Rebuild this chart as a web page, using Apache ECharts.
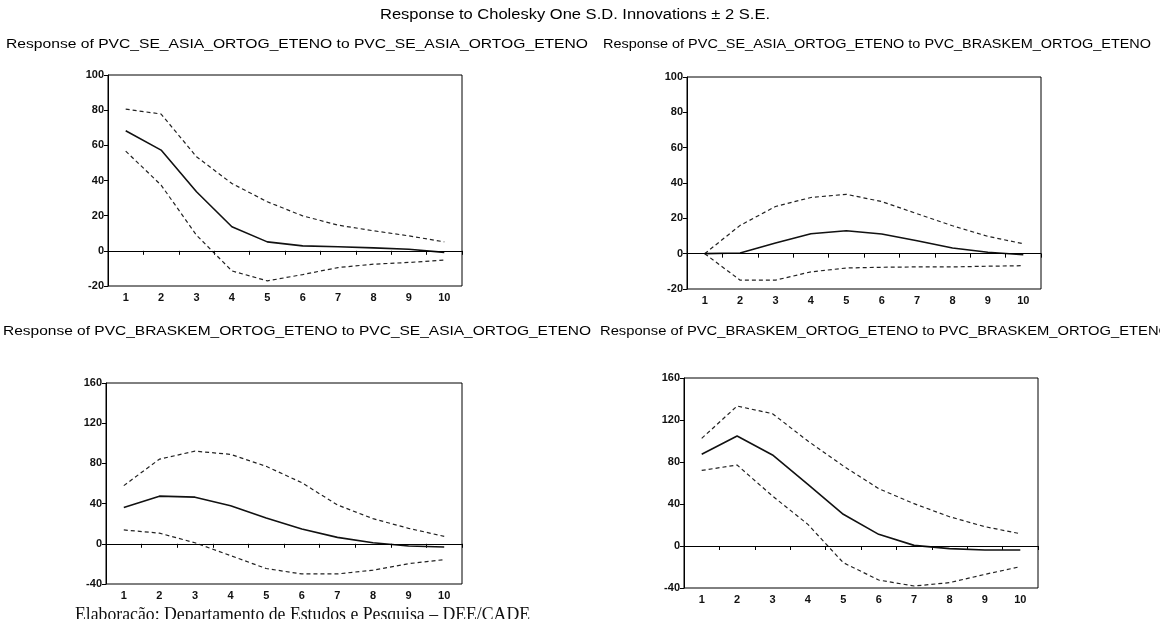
<!DOCTYPE html>
<html><head><meta charset="utf-8">
<script src="https://cdn.jsdelivr.net/npm/echarts@6/dist/echarts.min.js"></script>
<style>html,body{margin:0;padding:0;background:#fff;overflow:hidden}#c{width:1160px;height:619px}</style>
</head><body><div id="c"></div>
<script>
const periods = ['1','2','3','4','5','6','7','8','9','10'];
// Panel 1: PVC_SE_ASIA to PVC_SE_ASIA
const p1Resp = [68.3, 57.3, 33.6, 13.7, 5.1, 2.8, 2.3, 1.7, 0.9, -0.9];
const p1Up   = [80.6, 77.8, 53.5, 38.3, 27.9, 19.9, 14.6, 11.4, 8.5, 5.1];
const p1Lo   = [56.7, 37.4, 8.9, -11.4, -17.1, -13.5, -9.5, -7.6, -6.6, -5.3];
// Panel 2: PVC_SE_ASIA to PVC_BRASKEM
const p2Resp = [0, 0.4, 6, 11.3, 13, 11.1, 7.3, 3.2, 0.8, -0.6];
const p2Up   = [0, 16, 26.7, 31.8, 33.6, 29.5, 22.6, 15.8, 9.8, 5.6];
const p2Lo   = [0, -15, -15, -10.3, -8.1, -7.7, -7.5, -7.5, -7.1, -6.8];
// Panel 3: PVC_BRASKEM to PVC_SE_ASIA
const p3Resp = [36.2, 47.4, 46.4, 37.8, 25.6, 14.7, 6.4, 1, -2.2, -3.2];
const p3Up   = [57.9, 84.2, 92.2, 89, 77.1, 60.8, 38.7, 25, 15.4, 7.4];
const p3Lo   = [13.8, 10.6, 1, -11.8, -24.6, -30, -30, -26.2, -19.8, -15.7];
// Panel 4: PVC_BRASKEM to PVC_BRASKEM
const p4Resp = [87.3, 104.8, 86.7, 58.7, 30.2, 11.1, 0.6, -2.5, -3.8, -3.8];
const p4Up   = [102.5, 133.3, 126, 100, 76.2, 54.6, 40.3, 27.9, 18.4, 11.7];
const p4Lo   = [72, 77.1, 47.6, 20.6, -15.9, -32.4, -38.1, -34.9, -27, -19.7];

const mainTitle = 'Response to Cholesky One S.D. Innovations \u00B1 2 S.E.';
const panelTitles = [
  'Response of PVC_SE_ASIA_ORTOG_ETENO to PVC_SE_ASIA_ORTOG_ETENO',
  'Response of PVC_SE_ASIA_ORTOG_ETENO to PVC_BRASKEM_ORTOG_ETENO',
  'Response of PVC_BRASKEM_ORTOG_ETENO to PVC_SE_ASIA_ORTOG_ETENO',
  'Response of PVC_BRASKEM_ORTOG_ETENO to PVC_BRASKEM_ORTOG_ETENO'
];
const footer = 'Elabora\u00E7\u00E3o: Departamento de Estudos e Pesquisa \u2013 DEE/CADE';
const yRanges = [[-20,100,20],[-20,100,20],[-40,160,40],[-40,160,40]];

const grids = [
  {left:108, top:75, width:354, height:211},
  {left:687, top:77, width:354, height:212},
  {left:106, top:383, width:356, height:201},
  {left:684, top:378, width:354, height:210}
];
const panels = [[p1Resp,p1Up,p1Lo],[p2Resp,p2Up,p2Lo],[p3Resp,p3Up,p3Lo],[p4Resp,p4Up,p4Lo]];

const font = 'Arial, "Liberation Sans", sans-serif';
const serif = '"Liberation Serif", "Times New Roman", serif';
const mctx = document.createElement('canvas').getContext('2d');
function measure(text, f){ mctx.font = f; return mctx.measureText(text).width; }

const option = {
  animation:false,
  backgroundColor:'#fff',
  grid: grids.map(g => Object.assign({show:true, borderColor:'#000', borderWidth:1, backgroundColor:'transparent'}, g)),
  xAxis: grids.map((g,i)=>({
    type:'category', gridIndex:i, data:periods, boundaryGap:true,
    axisLine:{show:true, lineStyle:{color:'#000', width:1}},
    axisTick:{show:true, length:4, lineStyle:{color:'#000'}},
    axisLabel:{fontSize:11, fontWeight:'bold', color:'#111', margin:6, fontFamily:font},
    splitLine:{show:false}
  })),
  yAxis: grids.map((g,i)=>({
    type:'value', gridIndex:i, min:yRanges[i][0], max:yRanges[i][1], interval:yRanges[i][2],
    axisLine:{show:true, lineStyle:{color:'#000', width:1}},
    axisTick:{show:true, length:4, lineStyle:{color:'#000'}},
    axisLabel:{fontSize:11, fontWeight:'bold', color:'#111', margin:4, fontFamily:font},
    splitLine:{show:false}
  })),
  series: [],
  graphic: []
};
panels.forEach((p,i)=>{
  option.series.push({
    type:'line', xAxisIndex:i, yAxisIndex:i, data:p[0], symbol:'none',
    lineStyle:{color:'#111', width:1.6, type:'solid'},
    markLine:{silent:true, symbol:'none', label:{show:false},
      lineStyle:{color:'#000', width:1, type:'solid'}, data:[{yAxis:0}]}
  });
  option.series.push({
    type:'line', xAxisIndex:i, yAxisIndex:i, data:p[1], symbol:'none',
    lineStyle:{color:'#222', width:1.2, type:[4,3]}
  });
  option.series.push({
    type:'line', xAxisIndex:i, yAxisIndex:i, data:p[2], symbol:'none',
    lineStyle:{color:'#222', width:1.2, type:[4,3]}
  });
});

const mtFont = '14px ' + font;
const mtW = measure(mainTitle, mtFont);
option.graphic.push({type:'text', x:380, y:8, scaleX:390/mtW, originX:0,
  style:{text:mainTitle, font:mtFont, fill:'#000'}});

const ptFont = '13px ' + font;
// [x, y, target width]
const titlePos = [[6,38,582],[603,38,548],[3,325,588],[600,325,570]];
titlePos.forEach((tp,i)=>{
  const w = measure(panelTitles[i], ptFont);
  option.graphic.push({type:'text', x:tp[0], y:tp[1], scaleX:tp[2]/w, originX:0,
    style:{text:panelTitles[i], font:ptFont, fill:'#000'}});
});
const ftFont = '18px ' + serif;
const ftW = measure(footer, ftFont);
option.graphic.push({type:'text', x:75, y:606, scaleX:455/ftW, originX:0,
  style:{text:footer, font:ftFont, fill:'#111'}});

const chart = echarts.init(document.getElementById('c'), null, {renderer:'canvas'});
chart.setOption(option);
</script></body></html>
